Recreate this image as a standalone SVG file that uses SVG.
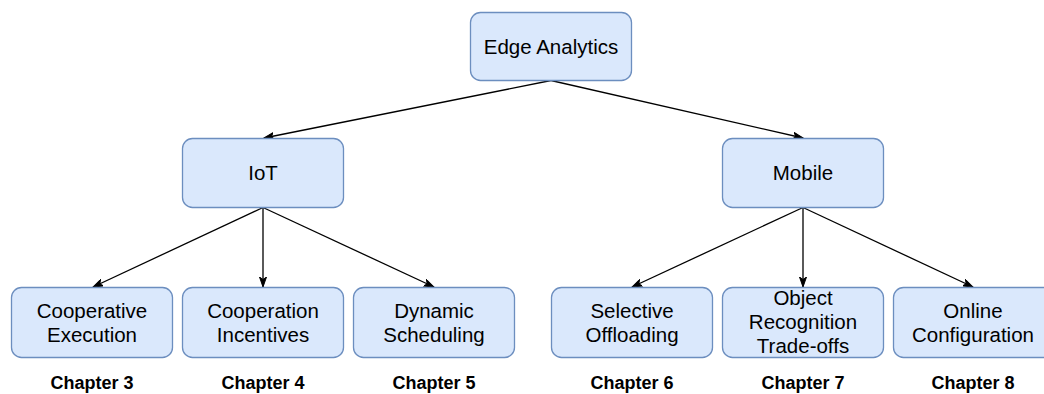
<svg xmlns="http://www.w3.org/2000/svg" width="1044" height="394" viewBox="0 0 1044 394">
<style>
.box{fill:#dae8fc;stroke:#6c8ebf;stroke-width:1.3}
.t{font-family:"Liberation Sans",Arial,sans-serif;font-size:20.5px;fill:#000;text-anchor:middle}
.c{font-family:"Liberation Sans",Arial,sans-serif;font-size:18px;font-weight:bold;fill:#000;text-anchor:middle}
.e{stroke:#000;stroke-width:1.3;fill:none;marker-end:url(#ar)}
</style>
<defs>
<marker id="ar" markerWidth="12" markerHeight="8" refX="10" refY="4" orient="auto" markerUnits="userSpaceOnUse">
<path d="M0,0.5 L10,4 L0,7.5 L2.5,4 Z" fill="#000" stroke="#000" stroke-width="1"/>
</marker>
</defs>
<rect width="1044" height="394" fill="#fff"/>
<g id="connectors">
<path class="e" d="M551,80.5 L264,138"/>
<path class="e" d="M551,80.5 L803,138"/>
<path class="e" d="M263,207.5 L93,287"/>
<path class="e" d="M263,207.5 L263,287"/>
<path class="e" d="M263,207.5 L434,287"/>
<path class="e" d="M803,207.5 L632,287"/>
<path class="e" d="M803,207.5 L803,287"/>
<path class="e" d="M803,207.5 L973,287"/>
</g>
<g id="edge-analytics"><rect class="box" x="470.5" y="12.5" width="161" height="68" rx="10"/><text class="t" x="551" y="54">Edge Analytics</text></g>
<g id="iot"><rect class="box" x="182.5" y="138.5" width="161" height="69" rx="10"/><text class="t" x="263" y="180">IoT</text></g>
<g id="mobile"><rect class="box" x="722.5" y="138.5" width="161" height="69" rx="10"/><text class="t" x="803" y="180">Mobile</text></g>
<g id="cooperative-execution"><rect class="box" x="11.5" y="287.5" width="161" height="70" rx="10"/><text class="t" x="92" y="317.5">Cooperative</text><text class="t" x="92" y="341.5">Execution</text></g>
<g id="cooperation-incentives"><rect class="box" x="182.5" y="287.5" width="161" height="70" rx="10"/><text class="t" x="263" y="317.5">Cooperation</text><text class="t" x="263" y="341.5">Incentives</text></g>
<g id="dynamic-scheduling"><rect class="box" x="353.5" y="287.5" width="161" height="70" rx="10"/><text class="t" x="434" y="317.5">Dynamic</text><text class="t" x="434" y="341.5">Scheduling</text></g>
<g id="selective-offloading"><rect class="box" x="551.5" y="287.5" width="161" height="70" rx="10"/><text class="t" x="632" y="317.5">Selective</text><text class="t" x="632" y="341.5">Offloading</text></g>
<g id="object-recognition"><rect class="box" x="722.5" y="287.5" width="161" height="70" rx="10"/><text class="t" x="803" y="305">Object</text><text class="t" x="803" y="329">Recognition</text><text class="t" x="803" y="353">Trade-offs</text></g>
<g id="online-configuration"><rect class="box" x="893.5" y="287.5" width="161" height="70" rx="10"/><text class="t" x="973" y="317.5">Online</text><text class="t" x="973" y="341.5">Configuration</text></g>
<g id="labels">
<text class="c" x="92" y="389">Chapter 3</text>
<text class="c" x="263" y="389">Chapter 4</text>
<text class="c" x="434" y="389">Chapter 5</text>
<text class="c" x="632" y="389">Chapter 6</text>
<text class="c" x="803" y="389">Chapter 7</text>
<text class="c" x="973" y="389">Chapter 8</text>
</g>
</svg>
